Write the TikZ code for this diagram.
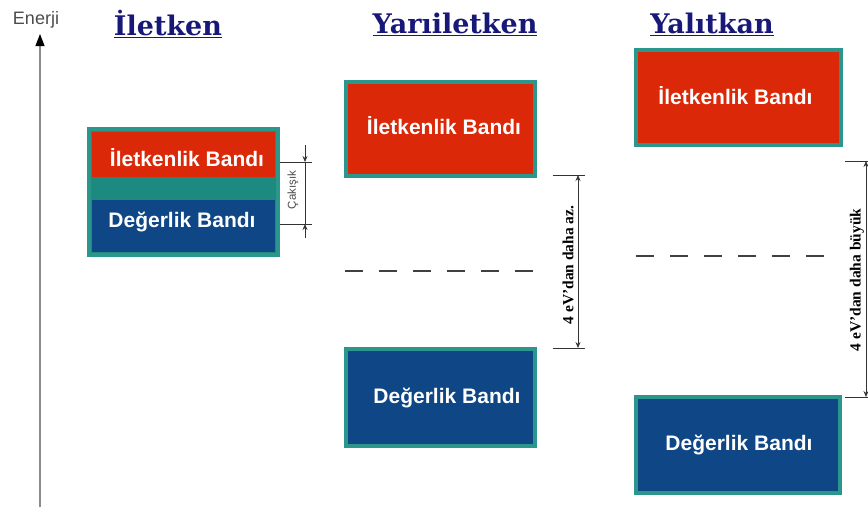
\documentclass[tikz,border=0pt]{standalone}
\usepackage{fontspec}
\setmainfont{Liberation Serif}
\setsansfont{Liberation Sans}
\newfontfamily\titlefont{DejaVu Serif}
\usetikzlibrary{arrows.meta}
\definecolor{bandred}{RGB}{218,40,8}
\definecolor{bandblue}{RGB}{14,70,134}
\definecolor{bandedge}{RGB}{42,150,140}
\definecolor{overlap}{RGB}{28,138,126}
\definecolor{titleblue}{RGB}{24,24,120}
\tikzset{every node/.style={draw=none,inner sep=0pt},
  band/.style={draw=bandedge,line width=4pt,text=white,font=\sffamily\bfseries\fontsize{21}{24}\selectfont},
  cb/.style={band,fill=bandred},
  vb/.style={band,fill=bandblue},
  title/.style={text=titleblue,font=\titlefont\bfseries\fontsize{27}{30}\selectfont},
  dim/.style={line width=0.7pt,black!80},
  gaptext/.style={rotate=90,font=\bfseries\fontsize{15.5}{17}\selectfont}}

\begin{document}
\begin{tikzpicture}[x=1pt,y=-1pt]
      \useasboundingbox (0,0) rectangle (868,507);
      % energy axis
      \coordinate (e0) at (40,507);
      \coordinate (e1) at (40,34);
      \draw[black!45,line width=1.2pt,-{Triangle[black,length=12pt,width=9pt]}] (e0) -- (e1);
      \node[text=black!70,font=\sffamily\fontsize{18}{22}\selectfont] (en) at (36,20) {Enerji};

      \node[title] (t1) at (168,24) {\underline{İletken}};
      \node[title] (t2) at (455,24) {\underline{Yarıiletken}};
      \node[title] (t3) at (712,24) {\underline{Yalıtkan}};

      % iletken
      \node[band,fill=overlap,minimum width=189pt,minimum height=126pt] (i) at (183.5,192) {};
      \node[fill=bandred,minimum width=183pt,minimum height=45pt] (icb) at (183.5,154.5) {};
      \node[fill=bandblue,minimum width=183pt,minimum height=52pt] (ivb) at (183.5,226) {};
      \node[band,draw=none] (icbt) at (187,158) {İletkenlik Bandı};
      \node[band,draw=none] (ivbt) at (182,222) {Değerlik Bandı};

      % yariiletken
      \node[cb,minimum width=189pt,minimum height=94pt] (ycb) at (440.5,129) {};
      \node[band,draw=none] (ycbt) at (444,126) {İletkenlik Bandı};
      \node[vb,minimum width=189pt,minimum height=97pt] (yvb) at (440.5,397.5) {};
      \node[band,draw=none] (yvbt) at (447,398) {Değerlik Bandı};

      % yalitkan
      \node[cb,minimum width=205pt,minimum height=95pt] (acb) at (738.5,97.5) {};
      \node[band,draw=none] (acbt) at (735.5,96) {İletkenlik Bandı};
      \node[vb,minimum width=204pt,minimum height=96pt] (avb) at (738,445) {};
      \node[band,draw=none] (avbt) at (739,445) {Değerlik Bandı};

      % fermi levels
      \coordinate (yf0) at (345,271);
      \coordinate (yf1) at (537,271);
      \coordinate (af0) at (636,256);
      \coordinate (af1) at (832,256);
      \foreach \a/\b in {yf0/yf1,af0/af1}
        \draw[black!75,line width=1.8pt,dash pattern=on 18pt off 16pt] (\a) -- (\b);

      % gaps
      \coordinate (c1) at (280,162);
      \coordinate (c2) at (312,162);
      \coordinate (c3) at (280,224);
      \coordinate (c4) at (312,224);
      \coordinate (c5) at (305,145);
      \coordinate (c6) at (305,162);
      \coordinate (c7) at (305,224);
      \coordinate (c8) at (305,238);
      \coordinate (g1) at (553,175);
      \coordinate (g2) at (585,175);
      \coordinate (g3) at (553,348);
      \coordinate (g4) at (585,348);
      \coordinate (g5) at (578,175);
      \coordinate (g6) at (578,348);
      \coordinate (h1) at (845,161);
      \coordinate (h2) at (868,161);
      \coordinate (h3) at (845,397);
      \coordinate (h4) at (868,397);
      \coordinate (h5) at (866,161);
      \coordinate (h6) at (866,397);
\foreach \a/\b in {c1/c2,c3/c4,c6/c7,g1/g2,g3/g4,h1/h2,h3/h4}
  \draw[dim] (\a) -- (\b);
\foreach \a/\b in {c5/c6,c8/c7}
  \draw[dim,-{Stealth[length=6pt,width=5pt]}] (\a) -- (\b);
\foreach \a/\b in {g5/g6,h5/h6}
  \draw[dim,{Stealth[length=6pt,width=5pt]}-{Stealth[length=6pt,width=5pt]}] (\a) -- (\b);
      \node[gaptext,font=\sffamily\fontsize{11.5}{13}\selectfont,text=black!70] (ck) at (293,190) {Çakışık};
      \node[gaptext] (az) at (568,265) {4 eV'dan daha az.};
      \node[gaptext] (bk) at (857,280) {4 eV'dan daha büyük};
    \end{tikzpicture}
\end{document}
